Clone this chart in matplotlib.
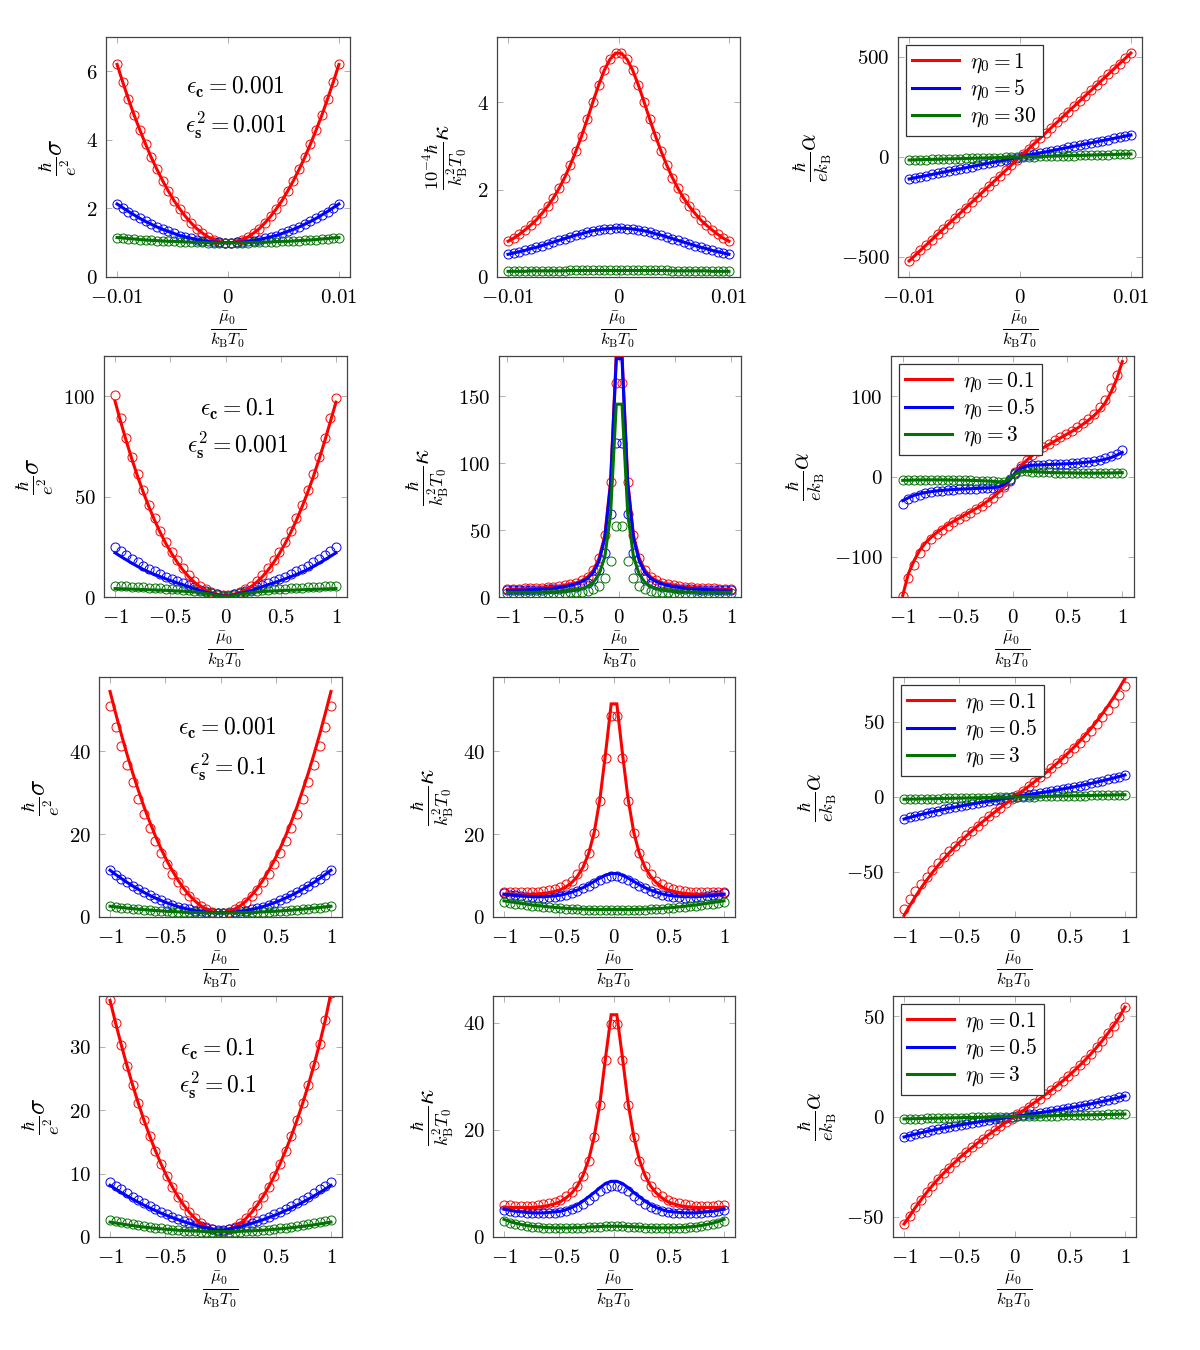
import numpy as np
import matplotlib
matplotlib.use("Agg")
import matplotlib.pyplot as plt
from matplotlib.ticker import FixedLocator, FixedFormatter

plt.rcParams['mathtext.fontset'] = 'cm'
plt.rcParams['font.family'] = ['DejaVu Serif']

# ---------------- x grids (reduced chemical potential) ----------------
mu_small = np.linspace(-0.01, 0.01, 40)
mu_large = np.linspace(-1.0, 1.0, 40)

# ---------------- row 1: eps_c = 0.001, eps_s^2 = 0.001 (eta0 = 1, 5, 30) ----------------
sig1_r = [6.20, 5.68, 5.19, 4.72, 4.29, 3.88, 3.49, 3.14, 2.81, 2.51, 2.23, 1.99, 1.77, 1.58, 1.41, 1.28, 1.17, 1.09, 1.03, 1.00,
          1.00, 1.03, 1.09, 1.17, 1.28, 1.41, 1.58, 1.77, 1.99, 2.23, 2.51, 2.81, 3.14, 3.49, 3.88, 4.29, 4.72, 5.19, 5.68, 6.20]
sig1_b = [2.13, 2.02, 1.91, 1.81, 1.71, 1.62, 1.54, 1.46, 1.39, 1.33, 1.27, 1.21, 1.17, 1.13, 1.09, 1.06, 1.04, 1.02, 1.01, 1.00,
          1.00, 1.01, 1.02, 1.04, 1.06, 1.09, 1.13, 1.17, 1.21, 1.27, 1.33, 1.39, 1.46, 1.54, 1.62, 1.71, 1.81, 1.91, 2.02, 2.13]
sig1_g = [1.15, 1.14, 1.12, 1.11, 1.09, 1.08, 1.07, 1.06, 1.05, 1.04, 1.04, 1.03, 1.02, 1.02, 1.01, 1.01, 1.00, 1.00, 1.00, 1.00,
          1.00, 1.00, 1.00, 1.00, 1.01, 1.01, 1.02, 1.02, 1.03, 1.04, 1.04, 1.05, 1.06, 1.07, 1.08, 1.09, 1.11, 1.12, 1.14, 1.15]

kap1_r = [0.82, 0.89, 0.98, 1.08, 1.19, 1.31, 1.46, 1.62, 1.81, 2.03, 2.28, 2.57, 2.89, 3.24, 3.62, 4.02, 4.40, 4.74, 4.99, 5.13,
          5.13, 4.99, 4.74, 4.40, 4.02, 3.62, 3.24, 2.89, 2.57, 2.28, 2.03, 1.81, 1.62, 1.46, 1.31, 1.19, 1.08, 0.98, 0.89, 0.82]
kap1_b = [0.52, 0.55, 0.58, 0.61, 0.65, 0.68, 0.72, 0.76, 0.80, 0.84, 0.88, 0.92, 0.96, 0.99, 1.03, 1.06, 1.08, 1.10, 1.11, 1.12,
          1.12, 1.11, 1.10, 1.08, 1.06, 1.03, 0.99, 0.96, 0.92, 0.88, 0.84, 0.80, 0.76, 0.72, 0.68, 0.65, 0.61, 0.58, 0.55, 0.52]
kap1_g = [0.13, 0.13, 0.13, 0.13, 0.14, 0.14, 0.14, 0.14, 0.14, 0.14, 0.14, 0.15, 0.15, 0.15, 0.15, 0.15, 0.15, 0.15, 0.15, 0.15,
          0.15, 0.15, 0.15, 0.15, 0.15, 0.15, 0.15, 0.15, 0.15, 0.14, 0.14, 0.14, 0.14, 0.14, 0.14, 0.14, 0.13, 0.13, 0.13, 0.13]

alp1_r = [-520.0, -493.3, -466.7, -440.0, -413.3, -386.7, -360.0, -333.3, -306.7, -280.0, -253.3, -226.7, -200.0, -173.3, -146.7, -120.0, -93.3, -66.7, -40.0, -13.3,
          13.3, 40.0, 66.7, 93.3, 120.0, 146.7, 173.3, 200.0, 226.7, 253.3, 280.0, 306.7, 333.3, 360.0, 386.7, 413.3, 440.0, 466.7, 493.3, 520.0]
alp1_b = [-110.0, -104.4, -98.7, -93.1, -87.4, -81.8, -76.2, -70.5, -64.9, -59.2, -53.6, -47.9, -42.3, -36.7, -31.0, -25.4, -19.7, -14.1, -8.5, -2.8,
          2.8, 8.5, 14.1, 19.7, 25.4, 31.0, 36.7, 42.3, 47.9, 53.6, 59.2, 64.9, 70.5, 76.2, 81.8, 87.4, 93.1, 98.7, 104.4, 110.0]
alp1_g = [-15.0, -14.2, -13.5, -12.7, -11.9, -11.2, -10.4, -9.6, -8.8, -8.1, -7.3, -6.5, -5.8, -5.0, -4.2, -3.5, -2.7, -1.9, -1.2, -0.4,
          0.4, 1.2, 1.9, 2.7, 3.5, 4.2, 5.0, 5.8, 6.5, 7.3, 8.1, 8.8, 9.6, 10.4, 11.2, 11.9, 12.7, 13.5, 14.2, 15.0]

# ---------------- row 2: eps_c = 0.1, eps_s^2 = 0.001 (eta0 = 0.1, 0.5, 3) ----------------
sig2_r = [100.7, 89.2, 79.2, 69.9, 61.3, 53.4, 46.0, 39.3, 33.1, 27.6, 22.6, 18.2, 14.3, 10.9, 8.0, 5.7, 3.8, 2.4, 1.5, 1.0,
          1.0, 1.5, 2.4, 3.8, 5.7, 8.0, 10.9, 14.3, 18.2, 22.6, 27.6, 33.1, 39.3, 46.0, 53.4, 61.3, 69.9, 79.2, 89.2, 99.3]
sig2_r_line = [97.5, 87.2, 77.5, 68.4, 59.9, 52.0, 44.8, 38.1, 32.0, 26.5, 21.6, 17.2, 13.4, 10.1, 7.4, 5.1, 3.4, 2.2, 1.4, 1.0,
               1.0, 1.4, 2.2, 3.4, 5.1, 7.4, 10.1, 13.4, 17.2, 21.6, 26.5, 32.0, 38.1, 44.8, 52.0, 59.9, 68.4, 77.5, 87.2, 97.0]
sig2_b = [24.8, 22.8, 20.9, 19.0, 17.2, 15.5, 14.0, 12.7, 11.4, 10.2, 9.1, 8.0, 7.0, 5.9, 4.8, 3.7, 2.8, 2.0, 1.3, 0.6,
          0.6, 1.3, 2.0, 2.8, 3.7, 4.8, 5.9, 7.0, 8.0, 9.1, 10.2, 11.4, 12.7, 14.0, 15.5, 17.2, 19.0, 20.9, 22.8, 24.8]
sig2_b_line = [22.0, 20.2, 18.5, 16.8, 15.2, 13.7, 12.4, 11.2, 10.1, 9.0, 8.0, 7.0, 6.1, 5.1, 4.1, 3.2, 2.4, 1.7, 1.0, 0.4,
               0.4, 1.0, 1.7, 2.4, 3.2, 4.1, 5.1, 6.1, 7.0, 8.0, 9.0, 10.1, 11.2, 12.4, 13.7, 15.2, 16.8, 18.5, 20.2, 22.0]
sig2_g = [5.7, 5.5, 5.3, 5.1, 5.0, 4.8, 4.7, 4.5, 4.4, 4.2, 4.0, 3.8, 3.6, 3.4, 3.1, 2.8, 2.4, 1.9, 1.2, 0.5,
          0.5, 1.2, 1.9, 2.4, 2.8, 3.1, 3.4, 3.6, 3.8, 4.0, 4.2, 4.4, 4.5, 4.7, 4.8, 5.0, 5.1, 5.3, 5.5, 5.7]
sig2_g_line = [4.2, 4.1, 4.0, 3.9, 3.8, 3.7, 3.6, 3.5, 3.4, 3.3, 3.15, 3.0, 2.9, 2.7, 2.5, 2.2, 1.8, 1.4, 0.8, 0.2,
               0.2, 0.8, 1.4, 1.8, 2.2, 2.5, 2.7, 2.9, 3.0, 3.15, 3.3, 3.4, 3.5, 3.6, 3.7, 3.8, 3.9, 4.0, 4.1, 4.2]

kap2_r = [6.1, 6.2, 6.3, 6.5, 6.6, 6.8, 7.0, 7.3, 7.7, 8.1, 8.7, 9.6, 10.8, 12.5, 15.2, 20.0, 29.0, 46.0, 86.0, 160.0,
          160.0, 86.0, 46.0, 29.0, 20.0, 15.2, 12.5, 10.8, 9.6, 8.7, 8.1, 7.7, 7.3, 7.0, 6.8, 6.6, 6.5, 6.3, 6.2, 6.1]
kap2_r_line = [5.8, 5.9, 6.0, 6.2, 6.3, 6.5, 6.7, 7.0, 7.4, 7.9, 8.5, 9.4, 10.6, 12.3, 15.0, 20.0, 29.0, 46.0, 86.0, 181.0,
               181.0, 86.0, 46.0, 29.0, 20.0, 15.0, 12.3, 10.6, 9.4, 8.5, 7.9, 7.4, 7.0, 6.7, 6.5, 6.3, 6.2, 6.0, 5.9, 5.8]
kap2_b = [5.0, 5.0, 5.1, 5.2, 5.3, 5.4, 5.5, 5.7, 5.9, 6.2, 6.6, 7.1, 7.8, 8.8, 10.5, 13.5, 20.0, 33.0, 62.0, 115.0,
          115.0, 62.0, 33.0, 20.0, 13.5, 10.5, 8.8, 7.8, 7.1, 6.6, 6.2, 5.9, 5.7, 5.5, 5.4, 5.3, 5.2, 5.1, 5.0, 5.0]
kap2_b_line = [4.9, 5.0, 5.1, 5.2, 5.4, 5.6, 5.9, 6.2, 6.6, 7.1, 7.8, 8.6, 9.8, 11.5, 14.0, 18.5, 27.0, 44.0, 84.0, 178.0,
               178.0, 84.0, 44.0, 27.0, 18.5, 14.0, 11.5, 9.8, 8.6, 7.8, 7.1, 6.6, 6.2, 5.9, 5.6, 5.4, 5.2, 5.1, 5.0, 4.9]
kap2_g = [3.0, 3.0, 3.0, 3.0, 3.0, 3.0, 3.0, 3.0, 3.1, 3.2, 3.3, 3.5, 3.7, 4.1, 4.8, 6.0, 8.5, 14.0, 27.0, 53.0,
          53.0, 27.0, 14.0, 8.5, 6.0, 4.8, 4.1, 3.7, 3.5, 3.3, 3.2, 3.1, 3.0, 3.0, 3.0, 3.0, 3.0, 3.0, 3.0, 3.0]
kap2_g_line = [3.5, 3.5, 3.5, 3.5, 3.5, 3.5, 3.6, 3.7, 3.8, 4.0, 4.3, 4.7, 5.3, 6.3, 8.0, 11.0, 17.0, 30.0, 62.0, 144.0,
               144.0, 62.0, 30.0, 17.0, 11.0, 8.0, 6.3, 5.3, 4.7, 4.3, 4.0, 3.8, 3.7, 3.6, 3.5, 3.5, 3.5, 3.5, 3.5, 3.5]

alp2_r = [-149, -126, -110, -95, -86, -78, -71, -66, -61, -57, -53, -49, -45, -41, -37, -32, -27, -21, -13, -5,
          5, 13, 21, 27, 32, 37, 41, 45, 49, 53, 57, 61, 66, 71, 78, 86, 95, 110, 126, 146]
alp2_r_line = [-148, -121, -105, -92, -83, -76, -70, -65, -60, -56, -52, -48, -44, -40, -36, -31, -26, -20, -13, -5,
               5, 13, 20, 26, 31, 36, 40, 44, 48, 52, 56, 60, 65, 70, 76, 83, 92, 105, 121, 143]
alp2_b = [-34, -28.5, -25, -22.5, -20.8, -19.5, -18.5, -17.7, -17, -16.5, -16, -15.6, -15.3, -15, -14.8, -14.5, -14.2, -13.5, -11, -4,
          4, 11, 13.5, 14.2, 14.5, 14.8, 15, 15.3, 15.6, 16, 16.5, 17, 17.7, 18.5, 19.5, 20.8, 22.5, 25, 28.5, 33]
alp2_b_line = [-30, -26.5, -23.5, -21.5, -20, -18.9, -18, -17.3, -16.7, -16.2, -15.8, -15.5, -15.2, -14.9, -14.6, -14.3, -14, -13, -10, -4,
               4, 10, 13, 14, 14.3, 14.6, 14.9, 15.2, 15.5, 15.8, 16.2, 16.7, 17.3, 18, 18.9, 20, 21.5, 23.5, 26.5, 30]
alp2_g = [-4.8, -4.6, -4.4, -4.3, -4.2, -4.2, -4.2, -4.2, -4.3, -4.4, -4.5, -4.6, -4.8, -5.0, -5.3, -5.6, -6.0, -6.5, -6.5, -3.0,
          3.0, 6.5, 6.5, 6.0, 5.6, 5.3, 5.0, 4.8, 4.6, 4.5, 4.4, 4.3, 4.2, 4.2, 4.2, 4.2, 4.3, 4.4, 4.6, 4.8]

# ---------------- row 3: eps_c = 0.001, eps_s^2 = 0.1 ----------------
sig3_r = [51.0, 46.0, 41.3, 36.8, 32.6, 28.6, 25.0, 21.5, 18.39, 15.5, 12.87, 10.5, 8.40, 6.56, 4.98, 3.67, 2.61, 1.82, 1.30, 1.03,
          1.03, 1.30, 1.82, 2.61, 3.67, 4.98, 6.56, 8.40, 10.5, 12.87, 15.5, 18.39, 21.5, 25.0, 28.6, 32.6, 36.8, 41.3, 46.0, 51.0]
sig3_r_line = [54.5, 49.2, 44.1, 39.3, 34.8, 30.6, 26.6, 23.0, 19.6, 16.5, 13.7, 11.2, 8.91, 6.94, 5.26, 3.85, 2.72, 1.88, 1.32, 1.04,
               1.04, 1.32, 1.88, 2.72, 3.85, 5.26, 6.94, 8.91, 11.2, 13.7, 16.5, 19.6, 23.0, 26.6, 30.6, 34.8, 39.3, 44.1, 49.2, 54.5]
sig3_b = [11.3, 10.27, 9.30, 8.37, 7.51, 6.69, 5.94, 5.23, 4.58, 3.99, 3.45, 2.96, 2.52, 2.14, 1.82, 1.55, 1.33, 1.17, 1.06, 1.01,
          1.01, 1.06, 1.17, 1.33, 1.55, 1.82, 2.14, 2.52, 2.96, 3.45, 3.99, 4.58, 5.23, 5.94, 6.69, 7.51, 8.37, 9.30, 10.27, 11.3]
sig3_g = [2.6, 2.44, 2.29, 2.15, 2.01, 1.88, 1.77, 1.66, 1.56, 1.46, 1.38, 1.30, 1.24, 1.18, 1.13, 1.09, 1.05, 1.03, 1.01, 1.0,
          1.0, 1.01, 1.03, 1.05, 1.09, 1.13, 1.18, 1.24, 1.30, 1.38, 1.46, 1.56, 1.66, 1.77, 1.88, 2.01, 2.15, 2.29, 2.44, 2.6]

kap3_r = [6.0, 6.0, 6.0, 6.0, 6.0, 6.0, 6.1, 6.3, 6.5, 6.8, 7.2, 7.9, 8.8, 10.3, 12.4, 15.4, 20.3, 28.0, 38.5, 48.5,
          48.5, 38.5, 28.0, 20.3, 15.4, 12.4, 10.3, 8.8, 7.9, 7.2, 6.8, 6.5, 6.3, 6.1, 6.0, 6.0, 6.0, 6.0, 6.0, 6.0]
kap3_r_line = [5.5, 5.5, 5.5, 5.5, 5.5, 5.5, 5.6, 5.7, 5.9, 6.2, 6.6, 7.3, 8.3, 9.8, 12.0, 15.3, 20.5, 28.5, 39.5, 51.5,
               51.5, 39.5, 28.5, 20.5, 15.3, 12.0, 9.8, 8.3, 7.3, 6.6, 6.2, 5.9, 5.7, 5.6, 5.5, 5.5, 5.5, 5.5, 5.5, 5.5]
kap3_b = [5.7, 5.4, 5.2, 5.0, 4.9, 4.8, 4.7, 4.7, 4.8, 4.9, 5.1, 5.4, 5.8, 6.3, 6.9, 7.5, 8.2, 8.9, 9.5, 9.8,
          9.8, 9.5, 8.9, 8.2, 7.5, 6.9, 6.3, 5.8, 5.4, 5.1, 4.9, 4.8, 4.7, 4.7, 4.8, 4.9, 5.0, 5.2, 5.4, 5.7]
kap3_b_line = [5.5, 5.4, 5.2, 5.1, 5.0, 4.9, 4.9, 4.9, 5.0, 5.1, 5.3, 5.6, 6.0, 6.5, 7.1, 7.8, 8.6, 9.4, 10.1, 10.5,
               10.5, 10.1, 9.4, 8.6, 7.8, 7.1, 6.5, 6.0, 5.6, 5.3, 5.1, 5.0, 4.9, 4.9, 4.9, 5.0, 5.1, 5.2, 5.4, 5.5]
kap3_g = [3.65, 3.45, 3.25, 3.05, 2.9, 2.75, 2.6, 2.45, 2.3, 2.2, 2.1, 2.0, 1.9, 1.85, 1.8, 1.75, 1.7, 1.7, 1.7, 1.7,
          1.7, 1.7, 1.7, 1.7, 1.75, 1.8, 1.85, 1.9, 2.0, 2.1, 2.2, 2.3, 2.45, 2.6, 2.75, 2.9, 3.05, 3.25, 3.45, 3.65]
kap3_g_line = [3.9, 3.7, 3.5, 3.3, 3.1, 2.9, 2.75, 2.6, 2.45, 2.3, 2.2, 2.1, 2.0, 1.95, 1.9, 1.85, 1.8, 1.8, 1.8, 1.8,
               1.8, 1.8, 1.8, 1.8, 1.85, 1.9, 1.95, 2.0, 2.1, 2.2, 2.3, 2.45, 2.6, 2.75, 2.9, 3.1, 3.3, 3.5, 3.7, 3.9]

alp3_r = [-74.5, -68.2, -62.8, -57.8, -53.1, -48.5, -44.3, -40.2, -36.3, -32.6, -29.1, -25.6, -22.4, -19.2, -16.1, -13.0, -10.1, -7.2, -4.3, -1.4,
          1.4, 4.3, 7.2, 10.1, 13.0, 16.1, 19.2, 22.4, 25.6, 29.1, 32.6, 36.3, 40.2, 44.3, 48.5, 53.1, 57.8, 62.8, 68.2, 74.0]
alp3_r_line = [-79.0, -72.5, -66.4, -60.7, -55.4, -50.4, -45.7, -41.3, -37.1, -33.2, -29.5, -25.9, -22.5, -19.2, -16.1, -13.0, -10.1, -7.1, -4.3, -1.4,
               1.4, 4.3, 7.1, 10.1, 13.0, 16.1, 19.2, 22.5, 25.9, 29.5, 33.2, 37.1, 41.3, 45.7, 50.4, 55.4, 60.7, 66.4, 72.5, 79.0]
alp3_b = [-14.70, -13.64, -12.64, -11.68, -10.77, -9.89, -9.06, -8.25, -7.48, -6.74, -6.02, -5.33, -4.66, -3.99, -3.36, -2.73, -2.11, -1.50, -0.90, -0.30,
          0.30, 0.90, 1.50, 2.11, 2.73, 3.36, 3.99, 4.66, 5.33, 6.02, 6.74, 7.48, 8.25, 9.06, 9.89, 10.77, 11.68, 12.64, 13.64, 14.70]
alp3_g = [-1.50, -1.42, -1.35, -1.27, -1.19, -1.12, -1.04, -0.96, -0.88, -0.81, -0.73, -0.65, -0.58, -0.50, -0.42, -0.35, -0.27, -0.19, -0.12, -0.04,
          0.04, 0.12, 0.19, 0.27, 0.35, 0.42, 0.50, 0.58, 0.65, 0.73, 0.81, 0.88, 0.96, 1.04, 1.12, 1.19, 1.27, 1.35, 1.42, 1.50]

# ---------------- row 4: eps_c = 0.1, eps_s^2 = 0.1 ----------------
sig4_r = [37.3, 33.67, 30.24, 26.99, 23.93, 21.07, 18.40, 15.92, 13.63, 11.53, 9.62, 7.90, 6.37, 5.03, 3.89, 2.93, 2.17, 1.60, 1.21, 1.02,
          1.02, 1.21, 1.60, 2.17, 2.93, 3.89, 5.03, 6.37, 7.90, 9.62, 11.53, 13.63, 15.92, 18.40, 21.07, 23.93, 27.1, 30.5, 34.2, 38.5]
sig4_b = [8.70, 8.08, 7.49, 6.92, 6.37, 5.85, 5.35, 4.88, 4.43, 4.00, 3.60, 3.23, 2.87, 2.54, 2.24, 1.96, 1.70, 1.47, 1.27, 1.08,
          1.08, 1.27, 1.47, 1.70, 1.96, 2.24, 2.54, 2.87, 3.23, 3.60, 4.00, 4.43, 4.88, 5.35, 5.85, 6.37, 6.92, 7.49, 8.08, 8.70]
sig4_b_line = [8.15, 7.55, 7.00, 6.47, 5.96, 5.48, 5.02, 4.58, 4.17, 3.77, 3.40, 3.06, 2.73, 2.43, 2.15, 1.89, 1.65, 1.44, 1.25, 1.07,
               1.07, 1.25, 1.44, 1.65, 1.89, 2.15, 2.43, 2.73, 3.06, 3.40, 3.77, 4.17, 4.58, 5.02, 5.48, 5.96, 6.47, 7.00, 7.55, 8.15]
sig4_g = [2.70, 2.51, 2.33, 2.16, 2.00, 1.85, 1.71, 1.58, 1.46, 1.35, 1.25, 1.16, 1.08, 1.01, 0.95, 0.90, 0.86, 0.83, 0.81, 0.80,
          0.80, 0.81, 0.83, 0.86, 0.90, 0.95, 1.01, 1.08, 1.16, 1.25, 1.35, 1.46, 1.58, 1.71, 1.85, 2.00, 2.16, 2.33, 2.51, 2.70]
sig4_g_line = [2.35, 2.20, 2.06, 1.92, 1.80, 1.68, 1.57, 1.47, 1.37, 1.29, 1.21, 1.14, 1.07, 1.02, 0.97, 0.93, 0.90, 0.87, 0.86, 0.85,
               0.85, 0.86, 0.87, 0.90, 0.93, 0.97, 1.02, 1.07, 1.14, 1.21, 1.29, 1.37, 1.47, 1.57, 1.68, 1.80, 1.92, 2.06, 2.20, 2.35]

kap4_r = [6.0, 5.9, 5.8, 5.8, 5.8, 5.8, 5.9, 6.1, 6.3, 6.6, 7.0, 7.6, 8.4, 9.6, 11.4, 14.2, 18.6, 24.7, 33.0, 39.7,
          39.7, 33.0, 24.7, 18.6, 14.2, 11.4, 9.6, 8.4, 7.6, 7.0, 6.6, 6.3, 6.1, 5.9, 5.8, 5.8, 5.8, 5.8, 5.9, 6.0]
kap4_r_line = [5.5, 5.5, 5.5, 5.5, 5.5, 5.5, 5.6, 5.7, 5.9, 6.2, 6.6, 7.3, 8.2, 9.5, 11.5, 14.4, 18.8, 25.0, 33.5, 41.5,
               41.5, 33.5, 25.0, 18.8, 14.4, 11.5, 9.5, 8.2, 7.3, 6.6, 6.2, 5.9, 5.7, 5.6, 5.5, 5.5, 5.5, 5.5, 5.5, 5.5]
kap4_b = [5.1, 4.9, 4.7, 4.6, 4.5, 4.4, 4.4, 4.4, 4.4, 4.5, 4.6, 4.9, 5.2, 5.6, 6.2, 6.9, 7.7, 8.5, 9.2, 9.6,
          9.6, 9.2, 8.5, 7.7, 6.9, 6.2, 5.6, 5.2, 4.9, 4.6, 4.5, 4.4, 4.4, 4.4, 4.4, 4.5, 4.6, 4.7, 4.9, 5.1]
kap4_b_line = [5.2, 5.0, 4.8, 4.7, 4.6, 4.5, 4.5, 4.5, 4.6, 4.7, 4.8, 5.1, 5.5, 6.0, 6.7, 7.5, 8.3, 9.2, 10.0, 10.4,
               10.4, 10.0, 9.2, 8.3, 7.5, 6.7, 6.0, 5.5, 5.1, 4.8, 4.7, 4.6, 4.5, 4.5, 4.5, 4.6, 4.7, 4.8, 5.0, 5.2]
kap4_g = [3.0, 2.7, 2.45, 2.2, 2.05, 1.9, 1.8, 1.7, 1.65, 1.6, 1.6, 1.6, 1.65, 1.7, 1.75, 1.85, 1.9, 1.95, 2.0, 2.0,
          2.0, 2.0, 1.95, 1.9, 1.85, 1.75, 1.7, 1.65, 1.6, 1.6, 1.6, 1.65, 1.7, 1.8, 1.9, 2.05, 2.2, 2.45, 2.7, 3.0]
kap4_g_line = [3.3, 2.9, 2.6, 2.35, 2.15, 2.0, 1.9, 1.8, 1.75, 1.7, 1.7, 1.7, 1.7, 1.75, 1.8, 1.85, 1.9, 1.95, 2.0, 2.0,
               2.0, 2.0, 1.95, 1.9, 1.85, 1.8, 1.75, 1.7, 1.7, 1.7, 1.7, 1.75, 1.8, 1.9, 2.0, 2.15, 2.35, 2.6, 2.9, 3.3]

alp4_r = [-53.5, -49.5, -45.3, -41.5, -37.8, -34.4, -31.2, -28.2, -25.4, -22.7, -20.1, -17.7, -15.4, -13.1, -11.0, -8.9, -6.9, -4.9, -2.9, -1.0,
          1.0, 2.9, 4.9, 6.9, 8.9, 11.0, 13.1, 15.4, 17.7, 20.1, 22.7, 25.4, 28.2, 31.2, 34.4, 37.8, 41.5, 45.3, 49.5, 54.5]
alp4_b = [-10.20, -9.47, -8.77, -8.11, -7.47, -6.86, -6.29, -5.73, -5.19, -4.68, -4.18, -3.70, -3.23, -2.77, -2.33, -1.89, -1.46, -1.04, -0.62, -0.21,
          0.21, 0.62, 1.04, 1.46, 1.89, 2.33, 2.77, 3.23, 3.70, 4.18, 4.68, 5.19, 5.73, 6.29, 6.86, 7.47, 8.11, 8.77, 9.47, 10.20]
alp4_g = [-1.20, -1.14, -1.08, -1.02, -0.95, -0.89, -0.83, -0.77, -0.71, -0.65, -0.58, -0.52, -0.46, -0.40, -0.34, -0.28, -0.22, -0.15, -0.09, -0.03,
          0.03, 0.09, 0.15, 0.22, 0.28, 0.34, 0.40, 0.46, 0.52, 0.58, 0.65, 0.71, 0.77, 0.83, 0.89, 0.95, 1.02, 1.08, 1.14, 1.20]

# ---------------- labels ----------------
eta_row1 = ['1', '5', '30']
eta_rows = ['0.1', '0.5', '3']
eps_c = ['0.001', '0.1', '0.001', '0.1']
eps_s2 = ['0.001', '0.001', '0.1', '0.1']

XLAB = r'$\frac{\bar{\mu}_0}{k_\mathrm{B}T_0}$'
YSIG = r'$\frac{\hbar}{e^2}\sigma$'
YKAP1 = r'$\frac{10^{-4}\hbar}{k_\mathrm{B}^2T_0}\kappa$'
YKAP = r'$\frac{\hbar}{k_\mathrm{B}^2T_0}\kappa$'
YALP = r'$\frac{\hbar}{ek_\mathrm{B}}\alpha$'

RED, BLUE, GREEN = '#ff0000', '#0000ff', '#007300'

W, H = 1200, 1350
row_top = [37, 356, 677, 996]
row_bot = [277, 597, 917, 1237]
col_lr = {
    0: [(106, 350), (104, 347), (99, 342), (99, 342)],
    1: [(497, 740), (499, 741), (493, 735), (493, 735)],
    2: [(898, 1142), (891, 1134), (893, 1136), (893, 1136)],
}

panels = [
    # row 0
    dict(r=0, c=0, x=mu_small, m=(sig1_r, sig1_b, sig1_g), l=(None, None, None),
         xlim=(-0.011, 0.011), xt=[-0.01, 0, 0.01], ylim=(0, 7), yt=[0, 2, 4, 6], yl=YSIG),
    dict(r=0, c=1, x=mu_small, m=(kap1_r, kap1_b, kap1_g), l=(None, None, None),
         xlim=(-0.011, 0.011), xt=[-0.01, 0, 0.01], ylim=(0, 5.5), yt=[0, 2, 4], yl=YKAP1),
    dict(r=0, c=2, x=mu_small, m=(alp1_r, alp1_b, alp1_g), l=(None, None, None),
         xlim=(-0.011, 0.011), xt=[-0.01, 0, 0.01], ylim=(-600, 600), yt=[-500, 0, 500], yl=YALP),
    # row 1
    dict(r=1, c=0, x=mu_large, m=(sig2_r, sig2_b, sig2_g), l=(sig2_r_line, sig2_b_line, sig2_g_line),
         xlim=(-1.1, 1.1), xt=[-1, -0.5, 0, 0.5, 1], ylim=(0, 120), yt=[0, 50, 100], yl=YSIG),
    dict(r=1, c=1, x=mu_large, m=(kap2_r, kap2_b, kap2_g), l=(kap2_r_line, kap2_b_line, kap2_g_line),
         xlim=(-1.075, 1.09), xt=[-1, -0.5, 0, 0.5, 1], ylim=(0, 180), yt=[0, 50, 100, 150], yl=YKAP),
    dict(r=1, c=2, x=mu_large, m=(alp2_r, alp2_b, alp2_g), l=(alp2_r_line, alp2_b_line, None),
         xlim=(-1.107, 1.107), xt=[-1, -0.5, 0, 0.5, 1], ylim=(-150, 150), yt=[-100, 0, 100], yl=YALP),
    # row 2
    dict(r=2, c=0, x=mu_large, m=(sig3_r, sig3_b, sig3_g), l=(sig3_r_line, None, None),
         xlim=(-1.1, 1.1), xt=[-1, -0.5, 0, 0.5, 1], ylim=(0, 58), yt=[0, 20, 40], yl=YSIG),
    dict(r=2, c=1, x=mu_large, m=(kap3_r, kap3_b, kap3_g), l=(kap3_r_line, kap3_b_line, kap3_g_line),
         xlim=(-1.1, 1.1), xt=[-1, -0.5, 0, 0.5, 1], ylim=(0, 58), yt=[0, 20, 40], yl=YKAP),
    dict(r=2, c=2, x=mu_large, m=(alp3_r, alp3_b, alp3_g), l=(alp3_r_line, None, None),
         xlim=(-1.1, 1.1), xt=[-1, -0.5, 0, 0.5, 1], ylim=(-80, 80), yt=[-50, 0, 50], yl=YALP),
    # row 3
    dict(r=3, c=0, x=mu_large, m=(sig4_r, sig4_b, sig4_g), l=(None, sig4_b_line, sig4_g_line),
         xlim=(-1.1, 1.1), xt=[-1, -0.5, 0, 0.5, 1], ylim=(0, 38), yt=[0, 10, 20, 30], yl=YSIG),
    dict(r=3, c=1, x=mu_large, m=(kap4_r, kap4_b, kap4_g), l=(kap4_r_line, kap4_b_line, kap4_g_line),
         xlim=(-1.1, 1.1), xt=[-1, -0.5, 0, 0.5, 1], ylim=(0, 45), yt=[0, 20, 40], yl=YKAP),
    dict(r=3, c=2, x=mu_large, m=(alp4_r, alp4_b, alp4_g), l=(None, None, None),
         xlim=(-1.1, 1.1), xt=[-1, -0.5, 0, 0.5, 1], ylim=(-60, 60), yt=[-50, 0, 50], yl=YALP),
]

ann_pos = [(0.53, 0.79, 0.63), (0.55, 0.78, 0.63), (0.53, 0.785, 0.625), (0.49, 0.78, 0.63)]


def tick_txt(v):
    return '$%s$' % ('%g' % v)


fig = plt.figure(figsize=(W / 100, H / 100), dpi=100)

for p in panels:
    r, c = p['r'], p['c']
    left, right = col_lr[c][r]
    top, bot = row_top[r], row_bot[r]
    ax = fig.add_axes([left / W, 1 - bot / H, (right - left) / W, (bot - top) / H])
    x = p['x']
    handles = []
    for marks, line, col in zip(p['m'], p['l'], (RED, BLUE, GREEN)):
        ax.plot(x, marks, linestyle='none', marker='o', ms=6.5, mfc='none', mec=col, mew=0.7, zorder=2)
        yl = line if line is not None else marks
        h, = ax.plot(x, yl, color=col, lw=2.2, zorder=3, solid_joinstyle='miter')
        handles.append(h)
    ax.set_xlim(*p['xlim'])
    ax.set_ylim(*p['ylim'])
    ax.xaxis.set_major_locator(FixedLocator(p['xt']))
    ax.xaxis.set_major_formatter(FixedFormatter([tick_txt(v) for v in p['xt']]))
    ax.yaxis.set_major_locator(FixedLocator(p['yt']))
    ax.yaxis.set_major_formatter(FixedFormatter([tick_txt(v) for v in p['yt']]))
    ax.tick_params(direction='in', length=4, width=0.7, color='#b0b0b0', top=True, right=True,
                   labelsize=15, labelcolor='black')
    ax.tick_params(axis='x', pad=8)
    ax.tick_params(axis='y', pad=6)
    for s in ax.spines.values():
        s.set_color('#444444')
        s.set_linewidth(0.9)
    ax.set_xlabel(XLAB, fontsize=17, labelpad=2)
    ax.set_ylabel(p['yl'], fontsize=19, labelpad=5)
    if c == 0:
        ax_, y1, y2 = ann_pos[r]
        ax.text(ax_, y1, r'$\epsilon_{\mathbf{c}} = %s$' % eps_c[r], transform=ax.transAxes,
                ha='center', va='center', fontsize=17)
        ax.text(ax_, y2, r'$\epsilon_{\mathbf{s}}^2 = %s$' % eps_s2[r], transform=ax.transAxes,
                ha='center', va='center', fontsize=17)
    if c == 2:
        etas = eta_row1 if r == 0 else eta_rows
        leg = ax.legend(handles, [r'$\eta_0 = %s$' % e for e in etas], loc='upper left',
                        fontsize=15.5, frameon=True, fancybox=False, edgecolor='#333333', framealpha=1,
                        borderaxespad=0.35, handlelength=2.2, handletextpad=0.5, labelspacing=0.12,
                        borderpad=0.3)
        leg.get_frame().set_linewidth(0.9)

fig.savefig('out.png', dpi=100, facecolor='white')
